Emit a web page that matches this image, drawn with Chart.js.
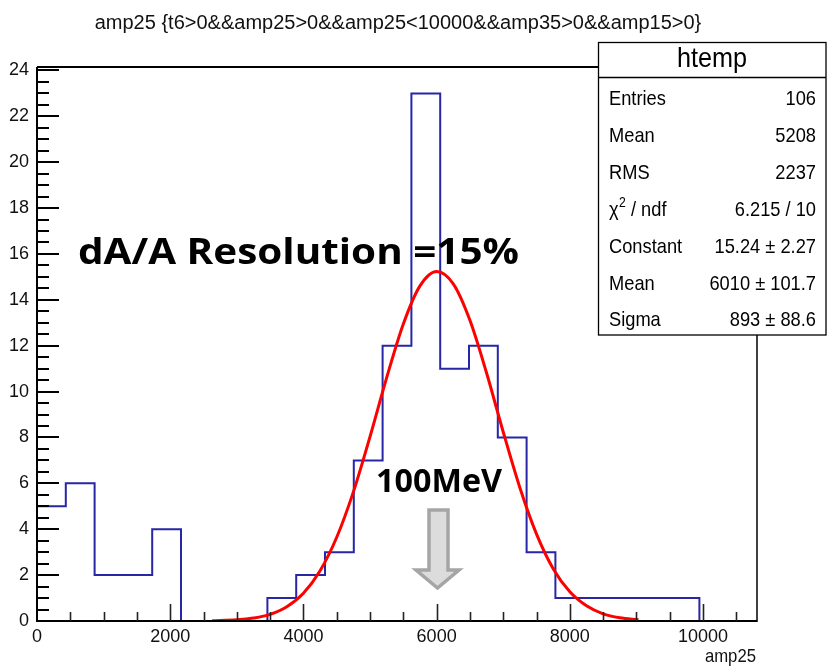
<!DOCTYPE html>
<html><head><meta charset="utf-8">
<script src="https://cdn.jsdelivr.net/npm/chart.js@4.4.0/dist/chart.umd.min.js"></script>
<style>html,body{margin:0;padding:0;background:#fff;overflow:hidden}#wrap{width:827px;height:666px}</style>
</head><body><div id="wrap"><canvas id="c" width="827" height="666"></canvas></div>
<script>
const titleText = 'amp25 {t6>0&&amp25>0&&amp25<10000&&amp35>0&&amp15>0}';
const xAxisTitle = 'amp25';
const xMin = 0, xMax = 10810, nBins = 25;
const counts = [5,6,2,2,4,0,0,0,1,2,3,7,12,23,11,12,8,3,1,1,1,1,1,0,0];
const fitX = [2630,3000,3250,3500,3750,4000,4250,4500,4750,5000,5250,5500,5750,6000,6250,6500,6750,7000,7250,7500,7750,8000,8250,8500,8750,9030];
const fitY = [0.01,0.05,0.13,0.29,0.62,1.21,2.19,3.65,5.63,8.04,10.61,12.95,14.61,15.24,14.70,13.11,10.81,8.24,5.81,3.79,2.28,1.27,0.66,0.31,0.14,0.05];
const yMax = 24.15;
const xTicks = [0,2000,4000,6000,8000,10000];
const yTicks = [0,2,4,6,8,10,12,14,16,18,20,22,24];
const xTickStep = 2000, xMinorStep = 500;
const yTickStep = 2, yMinorStep = 0.5;
const statsName = 'htemp';
const statsLabels = ['Entries','Mean','RMS','CHI','Constant','Mean','Sigma'];
const statsValues = ['106','5208','2237','6.215 / 10','15.24 \u00b1 2.27','6010 \u00b1 101.7','893 \u00b1 88.6'];
const noteText = 'dA/A Resolution =15%';
const energyText = '100MeV';

const binW = (xMax - xMin) / nBins;
const histPts = counts.map((c, i) => ({x: xMin + i * binW, y: c}));
histPts.push({x: xMax, y: counts[counts.length - 1]});
const fitPts = fitX.map((x, i) => ({x: x, y: fitY[i]}));

function txt(ctx, s, x, y, font, align, sx, color) {
  ctx.save();
  ctx.font = font;
  ctx.fillStyle = color || '#000';
  ctx.textBaseline = 'alphabetic';
  ctx.textAlign = 'left';
  const w = ctx.measureText(s).width * sx;
  let x0 = x;
  if (align === 'center') x0 = x - w / 2;
  else if (align === 'right') x0 = x - w;
  ctx.translate(x0, y);
  ctx.scale(sx, 1);
  ctx.fillText(s, 0, 0);
  ctx.restore();
  return w;
}
function fitText(ctx, s, x, y, font, targetW, color) {
  ctx.save();
  ctx.font = font;
  const w = ctx.measureText(s).width;
  ctx.restore();
  txt(ctx, s, x, y, font, 'left', targetW / w, color);
}

const decor = {
  id: 'decor',
  afterDatasetsDraw(chart) {
    const ctx = chart.ctx, a = chart.chartArea;
    const xs = chart.scales.x, ys = chart.scales.y;
    ctx.save();
    ctx.strokeStyle = '#000';
    ctx.lineCap = 'butt';
    ctx.lineWidth = 2;
    ctx.beginPath();
    ctx.moveTo(a.left, a.top); ctx.lineTo(a.right, a.top);
    ctx.moveTo(a.left, a.top); ctx.lineTo(a.left, a.bottom);
    ctx.moveTo(a.left - 1, a.bottom); ctx.lineTo(a.right, a.bottom);
    ctx.stroke();
    ctx.lineWidth = 1.5;
    ctx.beginPath();
    ctx.moveTo(a.right, a.top); ctx.lineTo(a.right, a.bottom + 1);
    ctx.stroke();
    ctx.lineWidth = 2;
    ctx.beginPath();
    for (let v = 0; v <= yMax + 1e-9; v += yMinorStep) {
      const py = Math.round(ys.getPixelForValue(v));
      const major = Math.abs(v / yTickStep - Math.round(v / yTickStep)) < 1e-6;
      ctx.moveTo(a.left, py); ctx.lineTo(a.left + (major ? 22 : 12), py);
    }
    ctx.stroke();
    ctx.lineWidth = 1.6;
    ctx.strokeStyle = '#222';
    ctx.beginPath();
    for (let v = xMinorStep; v <= xMax; v += xMinorStep) {
      const px = Math.round(xs.getPixelForValue(v)) + 0.5;
      const major = v % xTickStep === 0;
      ctx.moveTo(px, a.bottom); ctx.lineTo(px, a.bottom - (major ? 17 : 9));
    }
    ctx.stroke();
    ctx.restore();
  },
  afterDraw(chart) {
    const ctx = chart.ctx, a = chart.chartArea;
    txt(ctx, titleText, 398, 29, '20px "Liberation Sans", Arial, sans-serif', 'center', 1.0, '#111');
    txt(ctx, xAxisTitle, a.right - 1, 662, '19px "Liberation Sans", Arial, sans-serif', 'right', 0.88, '#111');
    fitText(ctx, noteText, 78, 264, 'bold 35px "Open Sans", Lato, sans-serif', 441, '#000');
    fitText(ctx, energyText, 376, 492, 'bold 32px "Open Sans", Lato, sans-serif', 126, '#000');
    ctx.save();
    ctx.beginPath();
    ctx.moveTo(429, 510); ctx.lineTo(448, 510); ctx.lineTo(448, 570); ctx.lineTo(459, 570);
    ctx.lineTo(437.5, 588); ctx.lineTo(416, 570); ctx.lineTo(429, 570); ctx.closePath();
    ctx.fillStyle = '#dcdcdc';
    ctx.fill();
    ctx.lineWidth = 3.5;
    ctx.strokeStyle = '#a5a5a5';
    ctx.lineJoin = 'miter';
    ctx.stroke();
    ctx.restore();
    const bx = 598.5, by = 42.5, bw = 826 - 598.5, bh = 335 - 42.5;
    ctx.save();
    ctx.fillStyle = '#fff';
    ctx.fillRect(bx, by, bw, bh);
    ctx.strokeStyle = '#000';
    ctx.lineWidth = 1.3;
    ctx.strokeRect(bx, by, bw, bh);
    ctx.beginPath();
    ctx.moveTo(bx, 77.5); ctx.lineTo(bx + bw, 77.5);
    ctx.stroke();
    ctx.restore();
    const sf = '21px "Liberation Sans", Arial, sans-serif';
    txt(ctx, statsName, 712, 67, '28px "Liberation Sans", Arial, sans-serif', 'center', 0.9, '#000');
    const base = [105, 142, 179, 216, 253, 290, 326];
    for (let i = 0; i < statsLabels.length; i++) {
      const yb = base[i];
      if (statsLabels[i] === 'CHI') {
        let w = txt(ctx, '\u03c7', 609, yb, sf, 'left', 0.87, '#000');
        let w2 = txt(ctx, '2', 609 + w + 0.5, yb - 9, '14px "Liberation Sans", Arial, sans-serif', 'left', 0.87, '#000');
        txt(ctx, ' / ndf', 609 + w + w2 + 0.5, yb, sf, 'left', 0.87, '#000');
      } else {
        txt(ctx, statsLabels[i], 609, yb, sf, 'left', 0.87, '#000');
      }
      txt(ctx, statsValues[i], 816, yb, sf, 'right', 0.87, '#000');
    }
  }
};

new Chart(document.getElementById('c'), {
  type: 'line',
  data: {
    datasets: [
      {label: 'hist', data: histPts, stepped: 'before', borderColor: '#2626a6', borderWidth: 2, pointRadius: 0, fill: false, order: 2},
      {label: 'fit', data: fitPts, borderColor: '#ff0000', borderWidth: 3, pointRadius: 0, fill: false, cubicInterpolationMode: 'monotone', order: 1}
    ]
  },
  options: {
    responsive: false,
    animation: false,
    devicePixelRatio: 1,
    layout: {padding: {top: 67, right: 70, left: 0, bottom: 0}},
    plugins: {legend: {display: false}, tooltip: {enabled: false}, title: {display: false}},
    scales: {
      x: {
        type: 'linear', min: xMin, max: xMax,
        afterBuildTicks(s) { s.ticks = xTicks.map(v => ({value: v})); },
        afterFit(s) { s.height = 45; },
        grid: {display: false, drawTicks: false},
        border: {display: false},
        ticks: {color: '#111', padding: 5, maxRotation: 0, autoSkip: false,
                callback: v => String(v),
                font: {family: '"Liberation Sans", Arial, sans-serif', size: 18}}
      },
      y: {
        type: 'linear', min: 0, max: yMax,
        afterBuildTicks(s) { s.ticks = yTicks.map(v => ({value: v})); },
        afterFit(s) { s.width = 37; },
        grid: {display: false, drawTicks: false},
        border: {display: false},
        ticks: {color: '#111', padding: 8, autoSkip: false,
                callback: v => String(v),
                font: {family: '"Liberation Sans", Arial, sans-serif', size: 18}}
      }
    }
  },
  plugins: [decor]
});
</script>
</body></html>
